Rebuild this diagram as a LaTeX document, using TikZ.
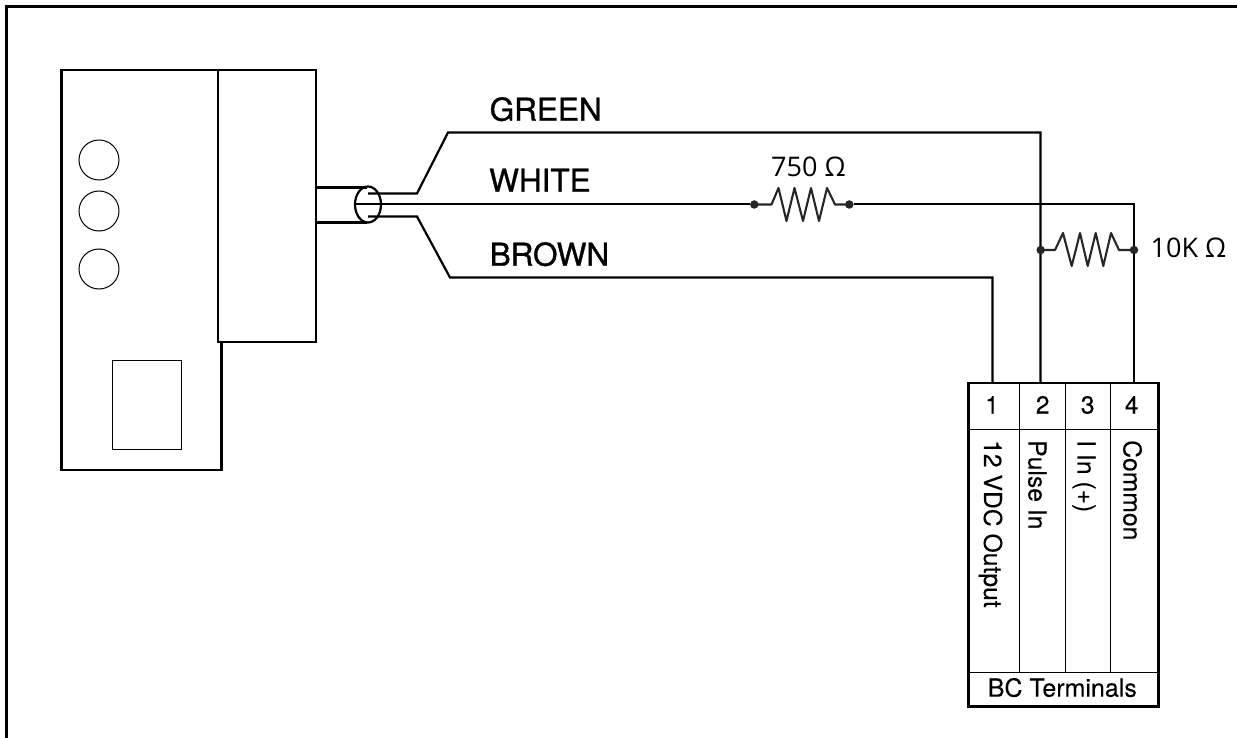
\documentclass[tikz,border=0pt]{standalone}
\usepackage{fontspec}
\setmainfont[FakeBold=0.15]{TeX Gyre Heros}
\newfontfamily\wirefont[FakeBold=1.0]{TeX Gyre Heros}
\newfontfamily\valfont{Open Sans}
\usetikzlibrary{calc,shapes.geometric}
\tikzset{
  frameline/.style={draw=black,line width=2.8pt},
  heavy/.style={draw=black,line width=2.5pt,outer sep=0pt},
  wire/.style={draw=black,line width=2.2pt,line join=miter,outer sep=0pt},
  thin box/.style={draw=black,line width=1pt,outer sep=0pt},
  res/.style={draw=black!85,line width=2.1pt,line join=round},
  dotn/.style={circle,fill=black!85,inner sep=0pt,minimum size=8.5pt,outer sep=0pt},
  wirelabel/.style={font=\wirefont\fontsize{31.5}{31.5}\selectfont,anchor=base west,inner sep=0pt},
  vallabel/.style={font=\valfont\fontsize{27}{27}\selectfont,anchor=base west,inner sep=0pt},
  termnum/.style={font=\fontsize{24.5}{24.5}\selectfont,anchor=base,inner sep=0pt},
  termtext/.style={font=\fontsize{24.7}{24.7}\selectfont,rotate=-90,anchor=base west,inner sep=0pt}
}
\begin{document}
\begin{tikzpicture}[x=1pt,y=-1pt]
\useasboundingbox (0,0) rectangle (1237,738);
\draw[frameline] (6.5,738) -- (6.5,6.5) -- (1237,6.5);
% device
\node[heavy,minimum width=160pt,minimum height=400pt,inner sep=0pt,anchor=north west] (body) at (61.5,70) {};
\node[heavy,fill=white,minimum width=98pt,minimum height=272pt,inner sep=0pt,anchor=north west] (head) at (218,70) {};
\node[thin box,circle,minimum size=40pt,inner sep=0pt] (c1) at (99,160) {};
\node[thin box,circle,minimum size=40pt,inner sep=0pt] (c2) at (99,211) {};
\node[thin box,circle,minimum size=40pt,inner sep=0pt] (c3) at (99,269) {};
\node[thin box,minimum width=69pt,minimum height=89pt,inner sep=0pt,anchor=north west] (win) at (112,360) {};
% cable
\coordinate (cabT) at (316,187.5);
\coordinate (cabB) at (316,222.5);
\draw[wire] (cabT) -- (367,187.5);
\draw[wire] (cabB) -- (367,222.5);
\node[wire,ellipse,minimum width=26pt,minimum height=36pt,inner sep=0pt] (jack) at (368,204.5) {};
% terminal block
\node[heavy,minimum width=190pt,minimum height=323.5pt,inner sep=0pt,anchor=north west] (term) at (968.3,383) {};
\coordinate (t1) at (992.5,383);
\coordinate (t2) at (1040.5,383);
\coordinate (t4) at (1134,383);
\draw[thin box] (968.3,429) -- (1158.3,429);
\draw[thin box] (968.3,672.7) -- (1158.3,672.7);
\draw[thin box] (1019.5,383) -- (1019.5,672.7);
\draw[thin box] (1065,383) -- (1065,672.7);
\draw[thin box] (1110.5,383) -- (1110.5,672.7);
\node[termnum] (n1) at (992,413.5) {1};
\node[termnum] (n2) at (1042.7,413.5) {2};
\node[termnum] (n3) at (1087.7,413.5) {3};
\node[termnum] (n4) at (1131.7,413.5) {4};
\node[termtext] (l1) at (984,440) {12 VDC Output};
\node[termtext] (l2) at (1028.5,440) {Pulse In};
\node[termtext] (l3) at (1077.5,440) {I In (+)};
\node[termtext] (l4) at (1123.5,440) {Common};
\node[font=\fontsize{25}{25}\selectfont,anchor=base,inner sep=0pt] (bc) at (1062.3,696.7) {BC Terminals};
% wires
\coordinate (gS) at (368,193.5);
\coordinate (gA) at (417,193.5);
\coordinate (gB) at (448,132.5);
\coordinate (gC) at (1040.5,132.5);
\draw[wire] (gS) -- (gA) -- (gB) -- (gC) -- (t2);
\coordinate (bS) at (368,216.5);
\coordinate (bA) at (417,216.5);
\coordinate (bB) at (450,277.5);
\coordinate (bC) at (992.5,277.5);
\draw[wire] (bS) -- (bA) -- (bB) -- (bC) -- (t1);
% white wire with series resistor
\coordinate (wS) at (355,204.5);
\node[dotn] (r1a) at (754.3,204.5) {};
\node[dotn] (r1b) at (849.3,204.5) {};
\coordinate (wC) at (1134,204.5);
\draw[wire,line width=2pt] (wS) -- (r1a);
\draw[wire,line width=2pt] (r1b) -- (wC) -- (t4);
\draw[res] (r1a.center) -- (771.5,204.5) -- (778.5,188) -- (786.5,221) -- (794.5,188) -- (803,221) -- (811,188) -- (819,221) -- (827,188) -- (835,204.5) -- (r1b.center);
% parallel resistor
\node[dotn] (r2a) at (1040.7,250) {};
\node[dotn] (r2b) at (1134,250) {};
\draw[res] (r2a.center) -- (1055,250) -- (1063,233) -- (1071.7,266) -- (1080,233) -- (1087.7,266) -- (1095.7,233) -- (1103.3,266) -- (1111,233) -- (1119,250) -- (r2b.center);
% labels
\node[wirelabel] (lg) at (489.5,120.7) {GREEN};
\node[wirelabel] (lw) at (489,191.7) {WHITE};
\node[wirelabel] (lb) at (489.5,265.7) {BROWN};
\node[vallabel] (v1) at (771,176.7) {750 Ω};
\node[vallabel] (v2) at (1150.5,257.7) {10K Ω};
\end{tikzpicture}
\end{document}
